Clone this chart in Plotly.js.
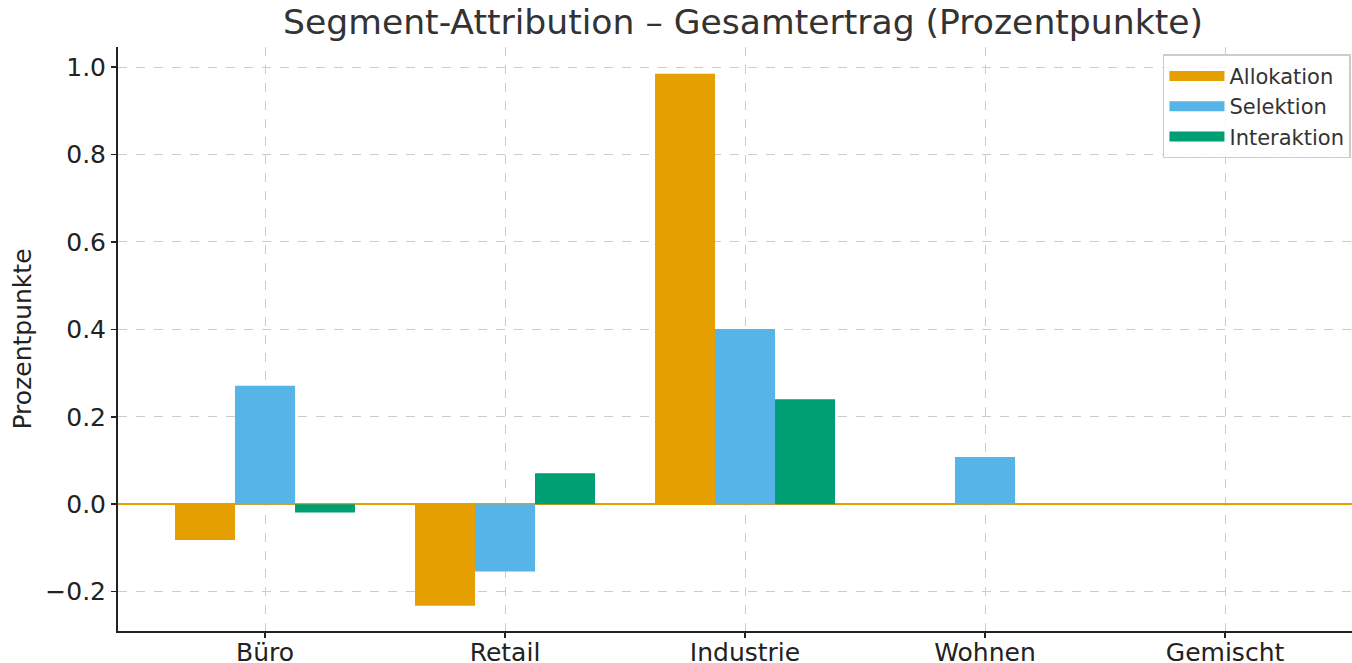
<!DOCTYPE html>
<html><head><meta charset="utf-8">
<script src="https://cdn.plot.ly/plotly-3.0.1.min.js"></script>
<style>html,body{margin:0;padding:0;background:#fff}#chart{width:1352px;height:663px}</style>
</head><body><div id="chart"></div>
<script>
const categories = ["Büro", "Retail", "Industrie", "Wohnen", "Gemischt"];
const allokation = [-0.082, -0.232, 0.985, 0.0, 0.0];
const selektion = [0.271, -0.154, 0.401, 0.108, 0.0];
const interaktion = [-0.019, 0.071, 0.240, 0.0, 0.0];
const seriesNames = ["Allokation", "Selektion", "Interaktion"];
const seriesColors = ["#E69F00", "#56B4E9", "#009E73"];
const seriesValues = [allokation, selektion, interaktion];
const yTickVals = [-0.2, 0, 0.2, 0.4, 0.6, 0.8, 1.0];
const yTickText = ["\u22120.2", "0.0", "0.2", "0.4", "0.6", "0.8", "1.0"];

const traces = seriesValues.map((vals, i) => ({
  type: "bar", x: categories, y: vals, name: seriesNames[i],
  marker: {color: seriesColors[i], line: {width: 0}}, showlegend: false
}));
// legend swatches (wide rectangles like the reference)
seriesNames.forEach((n, i) => traces.push({
  type: "scatter", mode: "lines", x: [categories[0]], y: [null], name: n,
  line: {color: seriesColors[i], width: 15}, showlegend: true, hoverinfo: "skip"
}));

const font = "DejaVu Sans, sans-serif";
const layout = {
  width: 1352, height: 663,
  margin: {l: 118, r: 0, t: 47, b: 32},
  paper_bgcolor: "#fff", plot_bgcolor: "#fff",
  barmode: "group", bargap: 0.25, bargroupgap: 0,
  font: {family: font, color: "#222", size: 25},
  title: {text: "Segment-Attribution – Gesamtertrag (Prozentpunkte)", font: {family: font, size: 34.6, color: "#333"},
          x: 0.5065, xref: "paper", xanchor: "center", y: 0.967, yanchor: "middle", yref: "container"},
  xaxis: {
    type: "category", range: [-0.6125, 4.529],
    showgrid: true, gridcolor: "#cccccc", griddash: "dash", gridwidth: 1,
    showline: true, linecolor: "#222", linewidth: 2,
    ticks: "outside", ticklen: 5, tickwidth: 1.5, tickcolor: "#222",
    tickfont: {family: font, size: 25, color: "#222"}, zeroline: false,
    ticklabelstandoff: -7
  },
  yaxis: {
    range: [-0.29, 1.046], tickvals: yTickVals, ticktext: yTickText,
    showgrid: true, gridcolor: "#cccccc", griddash: "dash", gridwidth: 1,
    showline: true, linecolor: "#222", linewidth: 2,
    ticks: "outside", ticklen: 5, tickwidth: 1.5, tickcolor: "#222",
    tickfont: {family: font, size: 25, color: "#222"},
    zeroline: true, zerolinecolor: "#E69F00", zerolinewidth: 2,
    title: {text: "Prozentpunkte", font: {family: font, size: 25, color: "#222"}, standoff: 7}
  },
  legend: {
    x: 0.8468, y: 0.9875, xanchor: "left", yanchor: "top",
    bgcolor: "rgba(255,255,255,0.85)", bordercolor: "#cccccc", borderwidth: 1.5,
    font: {family: font, size: 21, color: "#333"}, itemwidth: 55,
    traceorder: "normal"
  },
  showlegend: true
};
Plotly.newPlot("chart", traces, layout, {displayModeBar: false, staticPlot: true});
</script></body></html>
